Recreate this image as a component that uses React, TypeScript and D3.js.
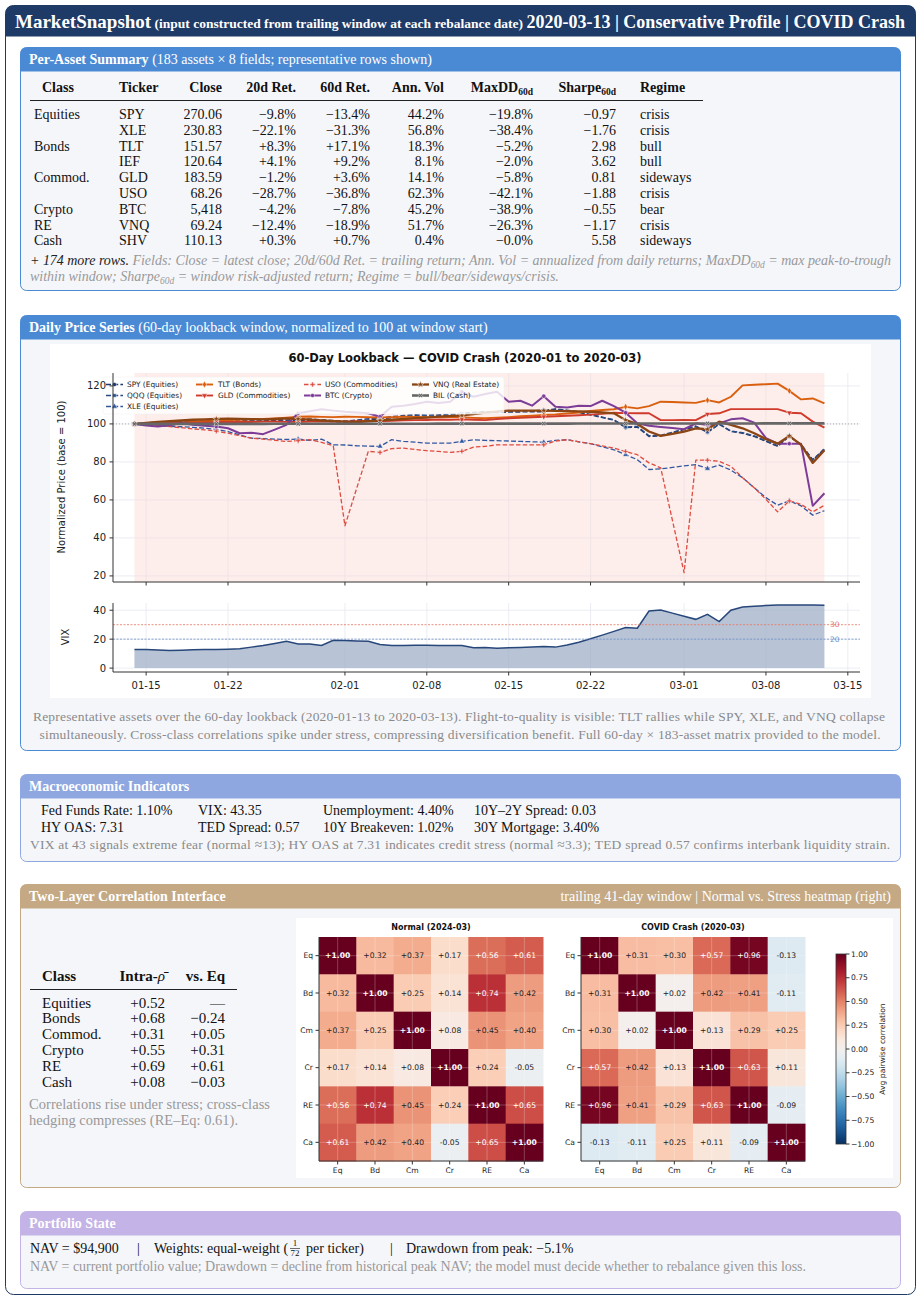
import React from 'react';
import * as d3 from 'd3';

const SERIF = '"Liberation Serif", "Times New Roman", serif';
const SANS = '"DejaVu Sans", "Noto Sans", sans-serif';

// ---------- Per-asset table ----------
const tableClasses = ['Equities', '', 'Bonds', '', 'Commod.', '', 'Crypto', 'RE', 'Cash'];
const tickers = ['SPY', 'XLE', 'TLT', 'IEF', 'GLD', 'USO', 'BTC', 'VNQ', 'SHV'];
const closes = [270.06, 230.83, 151.57, 120.64, 183.59, 68.26, 5418, 69.24, 110.13];
const ret20 = [-9.8, -22.1, 8.3, 4.1, -1.2, -28.7, -4.2, -12.4, 0.3];
const ret60 = [-13.4, -31.3, 17.1, 9.2, 3.6, -36.8, -7.8, -18.9, 0.7];
const annVol = [44.2, 56.8, 18.3, 8.1, 14.1, 62.3, 45.2, 51.7, 0.4];
const maxDD = [-19.8, -38.4, -5.2, -2.0, -5.8, -42.1, -38.9, -26.3, -0.0];
const sharpe = [-0.97, -1.76, 2.98, 3.62, 0.81, -1.88, -0.55, -1.17, 5.58];
const regimes = ['crisis', 'crisis', 'bull', 'bull', 'sideways', 'crisis', 'bear', 'crisis', 'sideways'];

// ---------- Price series (daily, 2020-01-14 .. 2020-03-13) ----------
const startDate = '2020-01-14';
const endDate = '2020-03-13';
const seriesNames = ['SPY (Equities)', 'QQQ (Equities)', 'XLE (Equities)', 'TLT (Bonds)', 'GLD (Commodities)', 'USO (Commodities)', 'BTC (Crypto)', 'VNQ (Real Estate)', 'BIL (Cash)'];
const spy = [100, 100.3, 100.6, 100.9, 101.1, 100.8, 101.2, 101.5, 101.3, 101.0, 101.4, 101.6, 101.9, 101.5, 101.8, 102.0, 101.7, 101.2, 100.9, 101.4, 102.1, 102.6, 103.3, 103.9, 104.3, 104.0, 104.2, 104.6, 105.0, 105.6, 105.9, 106.0, 106.2, 106.3, 106.4, 106.4, 107.7, 106.8, 106.0, 104.7, 103.4, 102.0, 98.0, 98.3, 93.4, 93.7, 95.3, 97.0, 98.6, 95.5, 99.8, 96.0, 95.1, 93.4, 90.8, 88.2, 93.4, 89.0, 80.9, 87.0];
const qqq = [100, 100.5, 100.9, 101.2, 101.5, 101.2, 101.7, 102.0, 101.8, 101.6, 101.9, 102.2, 102.5, 102.1, 102.4, 102.6, 102.2, 101.8, 101.5, 102.0, 102.7, 103.1, 103.8, 104.4, 104.9, 104.6, 104.8, 105.2, 105.6, 106.1, 106.4, 106.5, 106.8, 106.9, 107.0, 107.1, 107.9, 107.2, 106.3, 105.0, 103.6, 102.2, 98.4, 98.7, 93.8, 94.0, 95.6, 97.3, 98.9, 95.9, 100.0, 96.3, 95.4, 93.7, 91.1, 88.5, 93.6, 89.3, 81.2, 86.6];
const xle = [100, 99.6, 99.2, 98.8, 98.5, 98.2, 97.8, 97.1, 96.0, 94.2, 92.5, 92.3, 92.0, 91.8, 92.0, 91.3, 92.0, 89.0, 88.9, 88.5, 88.3, 88.2, 91.7, 90.8, 90.4, 89.9, 89.9, 89.9, 90.8, 91.7, 91.3, 91.2, 91.0, 90.8, 90.6, 90.4, 91.3, 91.7, 90.6, 89.6, 88.0, 86.4, 83.8, 81.2, 76.0, 76.3, 77.1, 77.9, 78.6, 76.5, 78.3, 75.7, 71.7, 66.4, 61.2, 57.2, 59.5, 56.9, 52.0, 54.3];
const tlt = [100, 100.4, 100.9, 101.0, 100.7, 101.2, 101.5, 101.4, 102.0, 102.2, 102.4, 102.6, 102.9, 103.3, 103.8, 103.9, 103.7, 103.6, 103.8, 103.7, 103.5, 103.4, 103.6, 103.8, 103.7, 103.5, 103.6, 103.8, 103.5, 103.2, 103.0, 103.3, 103.6, 104.0, 104.3, 104.7, 105.0, 105.5, 106.0, 106.8, 107.3, 107.7, 109.0, 108.2, 109.4, 111.7, 111.5, 111.3, 111.1, 112.5, 111.3, 114.3, 120.3, 120.6, 120.9, 121.2, 117.4, 112.9, 113.4, 110.8];
const gld = [100, 100.2, 100.4, 100.5, 100.7, 100.6, 100.8, 100.9, 101.0, 101.1, 101.0, 101.2, 101.3, 101.1, 101.0, 101.2, 101.4, 101.3, 101.2, 101.4, 101.6, 101.5, 101.7, 101.9, 102.0, 102.1, 102.3, 102.2, 102.4, 102.2, 102.0, 102.6, 103.0, 103.2, 103.5, 103.8, 104.0, 104.3, 104.6, 104.9, 105.3, 105.9, 105.7, 105.6, 105.6, 102.0, 102.0, 102.1, 102.0, 105.2, 105.6, 107.8, 107.8, 107.8, 107.8, 107.8, 105.9, 105.6, 101.2, 98.1];
const uso = [100, 99.5, 99.0, 98.6, 98.0, 97.4, 96.9, 96.2, 95.1, 93.8, 92.5, 92.0, 91.4, 90.8, 91.2, 91.7, 90.3, 88.5, 46.4, 66.0, 85.6, 85.0, 87.0, 87.3, 86.6, 85.9, 85.5, 85.0, 85.6, 87.8, 88.2, 89.0, 89.0, 89.0, 89.0, 89.0, 91.0, 91.7, 90.6, 89.6, 88.4, 87.3, 85.5, 83.8, 79.5, 76.9, 49.3, 21.7, 80.9, 80.9, 80.3, 77.7, 71.7, 66.4, 60.3, 53.7, 59.5, 57.7, 53.7, 57.2];
const btc = [100, 99.2, 98.6, 99.3, 100.3, 99.6, 99.0, 98.6, 97.7, 95.1, 95.4, 94.6, 97.0, 99.5, 105.6, 106.7, 107.7, 107.0, 106.4, 106.0, 105.6, 103.8, 109.0, 109.6, 110.5, 111.7, 111.0, 111.7, 116.9, 114.3, 115.7, 116.9, 111.7, 112.2, 109.6, 114.6, 109.0, 108.7, 109.6, 109.4, 112.2, 109.4, 105.9, 100.3, 99.0, 98.4, 97.9, 97.2, 100.3, 99.4, 100.3, 102.4, 103.0, 100.7, 92.5, 89.6, 89.6, 89.6, 56.9, 63.5];
const vnq = [100, 100.6, 101.1, 101.5, 101.8, 102.2, 102.4, 102.6, 102.8, 102.7, 102.5, 102.4, 102.6, 102.9, 102.6, 102.3, 101.8, 101.5, 101.2, 101.0, 101.4, 101.8, 102.2, 102.6, 103.0, 103.3, 103.8, 104.1, 104.5, 105.2, 105.9, 106.5, 107.0, 107.0, 107.0, 107.0, 106.9, 106.7, 106.6, 106.4, 106.0, 105.6, 102.0, 100.0, 96.0, 93.7, 94.8, 96.0, 97.7, 97.2, 101.2, 99.5, 97.7, 95.1, 92.0, 89.6, 93.7, 89.0, 79.5, 86.1];
const bil = [100, 100.0, 100.01, 100.01, 100.02, 100.02, 100.03, 100.03, 100.04, 100.04, 100.05, 100.05, 100.06, 100.06, 100.07, 100.07, 100.08, 100.08, 100.09, 100.09, 100.1, 100.1, 100.11, 100.11, 100.12, 100.12, 100.13, 100.13, 100.14, 100.14, 100.15, 100.15, 100.16, 100.16, 100.17, 100.17, 100.18, 100.18, 100.19, 100.19, 100.2, 100.2, 100.21, 100.21, 100.22, 100.22, 100.23, 100.23, 100.24, 100.24, 100.25, 100.25, 100.26, 100.26, 100.27, 100.27, 100.28, 100.28, 100.29, 100.29];
const vix = [12.9, 12.8, 12.5, 12.2, 12.4, 12.6, 12.8, 12.9, 13.1, 13.3, 14.5, 15.6, 17.0, 18.5, 16.7, 16.7, 15.6, 19.2, 19.0, 18.8, 18.5, 16.3, 15.6, 15.7, 15.8, 15.8, 15.7, 15.6, 15.6, 14.0, 14.2, 13.8, 14.0, 14.3, 14.6, 14.9, 14.5, 16.0, 17.9, 20.3, 22.8, 25.4, 28.0, 27.6, 39.5, 40.2, 38.0, 35.9, 33.7, 37.1, 32.1, 40.0, 42.3, 42.8, 43.2, 43.6, 43.6, 43.6, 43.6, 43.4];
const priceYTicks = [20, 40, 60, 80, 100, 120];
const vixYTicks = [0, 20, 40];
const xTickDates = ['2020-01-15', '2020-01-22', '2020-02-01', '2020-02-08', '2020-02-15', '2020-02-22', '2020-03-01', '2020-03-08', '2020-03-15'];

// ---------- Macro ----------
const macroRow1 = ['Fed Funds Rate: 1.10%', 'VIX: 43.35', 'Unemployment: 4.40%', '10Y\u20132Y Spread: 0.03'];
const macroRow2 = ['HY OAS: 7.31', 'TED Spread: 0.57', '10Y Breakeven: 1.02%', '30Y Mortgage: 3.40%'];

// ---------- Correlation ----------
const corrClasses = ['Equities', 'Bonds', 'Commod.', 'Crypto', 'RE', 'Cash'];
const intraRho = [0.52, 0.68, 0.31, 0.55, 0.69, 0.08];
const vsEq = [null, -0.24, 0.05, 0.31, 0.61, -0.03];
const heatLabels = ['Eq', 'Bd', 'Cm', 'Cr', 'RE', 'Ca'];
const normalCorr = [
  [1.0, 0.32, 0.37, 0.17, 0.56, 0.61],
  [0.32, 1.0, 0.25, 0.14, 0.74, 0.42],
  [0.37, 0.25, 1.0, 0.08, 0.45, 0.40],
  [0.17, 0.14, 0.08, 1.0, 0.24, -0.05],
  [0.56, 0.74, 0.45, 0.24, 1.0, 0.65],
  [0.61, 0.42, 0.40, -0.05, 0.65, 1.0],
];
const covidCorr = [
  [1.0, 0.31, 0.30, 0.57, 0.96, -0.13],
  [0.31, 1.0, 0.02, 0.42, 0.41, -0.11],
  [0.30, 0.02, 1.0, 0.13, 0.29, 0.25],
  [0.57, 0.42, 0.13, 1.0, 0.63, 0.11],
  [0.96, 0.41, 0.29, 0.63, 1.0, -0.09],
  [-0.13, -0.11, 0.25, 0.11, -0.09, 1.0],
];
const cbarTicks = [1, 0.75, 0.5, 0.25, 0, -0.25, -0.5, -0.75, -1];

// ---------- helpers ----------
const MINUS = '\u2212';
const fmtPct = (v: number, plus = true) => {
  const neg = v < 0 || Object.is(v, -0);
  return (neg ? MINUS : plus ? '+' : '') + Math.abs(v).toFixed(1) + '%';
};
const fmtSharpe = (v: number) => (v < 0 ? MINUS : '') + Math.abs(v).toFixed(2);
const fmtClose = (v: number) => (v >= 1000 ? d3.format(',')(v) : v.toFixed(2));
const fmtRho = (v: number) => (v < 0 ? MINUS : '+') + Math.abs(v).toFixed(2);

const topRounded = (x: number, y: number, w: number, h: number, r: number) =>
  `M${x},${y + h}V${y + r}Q${x},${y} ${x + r},${y}H${x + w - r}Q${x + w},${y} ${x + w},${y + r}V${y + h}Z`;

function Section({ y, h, color, children }: any) {
  return (
    <g>
      <rect x={20.5} y={y + 0.5} width={880} height={h} rx={6} fill="#f5f6fa" stroke={color} strokeWidth={1} />
      <path d={topRounded(20.5, y + 0.5, 880, 24, 6)} fill={color} />
      {children}
    </g>
  );
}

const styles = [
  { color: '#1f3a6e', dash: '5,2.2', width: 1.4, symbol: d3.symbolCircle, size: 14 },
  { color: '#274b85', dash: '5,2.2', width: 1.4, symbol: d3.symbolSquare, size: 12 },
  { color: '#3057a0', dash: '5,2.2', width: 1.3, symbol: d3.symbolTriangle, size: 14 },
  { color: '#d95f0e', dash: null, width: 1.9, symbol: d3.symbolDiamond, size: 14 },
  { color: '#cf3a2b', dash: null, width: 1.9, symbol: d3.symbolTriangle, size: 14, rot: 180 },
  { color: '#de4b3f', dash: '4.5,2.2', width: 1.3, symbol: d3.symbolCross, size: 14 },
  { color: '#7d3c98', dash: null, width: 2.0, symbol: d3.symbolCircle, size: 14 },
  { color: '#8b4513', dash: null, width: 2.3, symbol: d3.symbolStar, size: 16 },
  { color: '#666666', dash: null, width: 2.6, symbol: d3.symbolCross, size: 14, rot: 45 },
];

function PriceChart() {
  const parse = d3.utcParse('%Y-%m-%d');
  const d0 = parse(startDate)!;
  const d1 = parse(endDate)!;
  const dates = d3.utcDays(d0, d3.utcDay.offset(d1, 1));
  const allSeries = [spy, qqq, xle, tlt, gld, uso, btc, vnq, bil];
  const x = d3
    .scaleUtc()
    .domain([d3.utcHour.offset(d0, -Math.round(1.82 * 24)), d3.utcHour.offset(d1, Math.round(3.03 * 24))])
    .range([113, 860]);
  const y = d3.scaleLinear().domain([16.8, 126.8]).range([582, 373]);
  const yv = d3.scaleLinear().domain([-2.7, 45]).range([672, 603]);
  const line = d3
    .line<number>()
    .x((_, i) => x(dates[i]))
    .y((v) => y(v));
  const vixLine = d3
    .line<number>()
    .x((_, i) => x(dates[i]))
    .y((v) => yv(v));
  const vixArea = d3
    .area<number>()
    .x((_, i) => x(dates[i]))
    .y0(yv(0))
    .y1((v) => yv(v));
  const ticks = xTickDates.map((s) => parse(s)!);
  const fmt = d3.utcFormat('%m-%d');
  const gridC = '#e6e8f0';
  const legendCols = [
    { lx: 106, tx: 127, items: [0, 1, 2] },
    { lx: 196, tx: 218, items: [3, 4] },
    { lx: 304, tx: 325, items: [5, 6] },
    { lx: 412, tx: 433, items: [7, 8] },
  ];
  const legendRows = [384.5, 395.5, 406.5];
  const markIdx = d3.range(0, 60, 7);

  return (
    <g>
      <rect x={50} y={344} width={821} height={354} fill="#ffffff" />
      <text x={465} y={362} textAnchor="middle" fontFamily={SANS} fontWeight="bold" fontSize={11.5} fill="#111">
        60-Day Lookback — COVID Crash (2020-01 to 2020-03)
      </text>
      {ticks.map((t, i) => (
        <line key={'gx' + i} x1={x(t)} x2={x(t)} y1={373} y2={582} stroke={gridC} strokeWidth={0.8} />
      ))}
      {priceYTicks.map((v) => (
        <line key={'gy' + v} x1={113} x2={860} y1={y(v)} y2={y(v)} stroke={gridC} strokeWidth={0.8} />
      ))}
      <rect x={x(d0)} y={373} width={x(d1) - x(d0)} height={209} fill="#fbd9d4" opacity={0.45} />
      <line x1={113} x2={860} y1={y(100)} y2={y(100)} stroke="#9a9a9a" strokeWidth={0.8} strokeDasharray="1,2" />
      {allSeries.map((s, k) => (
        <g key={'s' + k}>
          <path
            d={line(s)!}
            fill="none"
            stroke={styles[k].color}
            strokeWidth={styles[k].width}
            strokeDasharray={styles[k].dash || undefined}
            strokeLinejoin="round"
          />
          {markIdx.map((i) => (
            <path
              key={i}
              d={d3.symbol(styles[k].symbol, styles[k].size)()!}
              transform={`translate(${x(dates[i])},${y(s[i])}) rotate(${styles[k].rot || 0})`}
              fill={styles[k].color}
              stroke="#fff"
              strokeWidth={0.5}
            />
          ))}
        </g>
      ))}
      <rect x={103} y={377} width={401} height={37} rx={2} fill="#ffffff" fillOpacity={0.82} stroke="#ececec" strokeWidth={0.5} />
      {legendCols.map((c) =>
        c.items.map((k, ri) => (
          <g key={'lg' + k}>
            <line
              x1={c.lx}
              x2={c.lx + 17}
              y1={legendRows[ri]}
              y2={legendRows[ri]}
              stroke={styles[k].color}
              strokeWidth={styles[k].width}
              strokeDasharray={styles[k].dash || undefined}
            />
            <path
              d={d3.symbol(styles[k].symbol, styles[k].size)()!}
              transform={`translate(${c.lx + 8.5},${legendRows[ri]}) rotate(${styles[k].rot || 0})`}
              fill={styles[k].color}
              stroke="#fff"
              strokeWidth={0.5}
            />
            <text x={c.tx} y={legendRows[ri] + 2.6} fontFamily={SANS} fontSize={7.4} fill="#222">
              {seriesNames[k]}
            </text>
          </g>
        ))
      )}
      <line x1={113} x2={113} y1={373} y2={582} stroke="#333" strokeWidth={1} />
      <line x1={113} x2={860} y1={582} y2={582} stroke="#333" strokeWidth={1} />
      {priceYTicks.map((v) => (
        <g key={'yt' + v}>
          <line x1={109.5} x2={113} y1={y(v)} y2={y(v)} stroke="#333" />
          <text x={106} y={y(v) + 3.5} textAnchor="end" fontFamily={SANS} fontSize={10} fill="#222">
            {v}
          </text>
        </g>
      ))}
      {ticks.map((t, i) => (
        <line key={'xt' + i} x1={x(t)} x2={x(t)} y1={582} y2={585.5} stroke="#333" />
      ))}
      <text transform={`translate(65,477) rotate(-90)`} textAnchor="middle" fontFamily={SANS} fontSize={10} fill="#222">
        Normalized Price (base = 100)
      </text>

      {ticks.map((t, i) => (
        <line key={'vgx' + i} x1={x(t)} x2={x(t)} y1={603} y2={672} stroke={gridC} strokeWidth={0.8} />
      ))}
      {vixYTicks.map((v) => (
        <line key={'vgy' + v} x1={113} x2={860} y1={yv(v)} y2={yv(v)} stroke={gridC} strokeWidth={0.8} />
      ))}
      <path d={vixArea(vix)!} fill="#9aabc4" fillOpacity={0.7} />
      <path d={vixLine(vix)!} fill="none" stroke="#27467a" strokeWidth={1.5} />
      <line x1={113} x2={860} y1={yv(30)} y2={yv(30)} stroke="#e8735f" strokeWidth={0.8} strokeDasharray="2,1.5" />
      <line x1={113} x2={860} y1={yv(20)} y2={yv(20)} stroke="#6f8fc8" strokeWidth={0.8} strokeDasharray="2,1.5" />
      <text x={830} y={yv(30) + 2.5} fontFamily={SANS} fontSize={7.5} fill="#e8735f">30</text>
      <text x={830} y={yv(20) + 2.5} fontFamily={SANS} fontSize={7.5} fill="#6f8fc8">20</text>
      <line x1={113} x2={113} y1={603} y2={672} stroke="#333" strokeWidth={1} />
      <line x1={113} x2={860} y1={672} y2={672} stroke="#333" strokeWidth={1} />
      {vixYTicks.map((v) => (
        <g key={'vyt' + v}>
          <line x1={109.5} x2={113} y1={yv(v)} y2={yv(v)} stroke="#333" />
          <text x={106} y={yv(v) + 3.5} textAnchor="end" fontFamily={SANS} fontSize={10} fill="#222">
            {v}
          </text>
        </g>
      ))}
      {ticks.map((t, i) => (
        <g key={'vxt' + i}>
          <line x1={x(t)} x2={x(t)} y1={672} y2={675.5} stroke="#333" />
          <text x={x(t)} y={689} textAnchor="middle" fontFamily={SANS} fontSize={10} fill="#222">
            {fmt(t)}
          </text>
        </g>
      ))}
      <text transform={`translate(69,637) rotate(-90)`} textAnchor="middle" fontFamily={SANS} fontSize={10} fill="#222">
        VIX
      </text>
    </g>
  );
}

function Heatmap({ x0, y0, title, data }: any) {
  const n = heatLabels.length;
  const band = d3.scaleBand<number>().domain(d3.range(n)).range([0, 224]);
  const color = (v: number) => d3.interpolateRdBu((1 - v) / 2);
  const cw = band.bandwidth();
  return (
    <g>
      <text x={x0 + 112} y={930} textAnchor="middle" fontFamily={SANS} fontWeight="bold" fontSize={8} fill="#111">
        {title}
      </text>
      {data.map((row: number[], r: number) =>
        row.map((v: number, c: number) => (
          <rect key={r + '-' + c} x={x0 + band(c)!} y={y0 + band(r)!} width={cw + 0.5} height={cw + 0.5} fill={color(v)} />
        ))
      )}
      {d3.range(n).map((i) => (
        <g key={'g' + i}>
          <line x1={x0 + band(i)! + cw / 2} x2={x0 + band(i)! + cw / 2} y1={y0} y2={y0 + 224} stroke="#ffffff" strokeOpacity={0.3} strokeWidth={0.8} />
          <line y1={y0 + band(i)! + cw / 2} y2={y0 + band(i)! + cw / 2} x1={x0} x2={x0 + 224} stroke="#ffffff" strokeOpacity={0.3} strokeWidth={0.8} />
        </g>
      ))}
      {data.map((row: number[], r: number) =>
        row.map((v: number, c: number) => (
          <text
            key={'t' + r + '-' + c}
            x={x0 + band(c)! + cw / 2}
            y={y0 + band(r)! + cw / 2 + 2.7}
            textAnchor="middle"
            fontFamily={SANS}
            fontSize={7.6}
            fontWeight={r === c ? 'bold' : 'normal'}
            fill={Math.abs(v) > 0.5 ? '#ffffff' : '#222222'}
          >
            {(v >= 0 ? '+' : '-') + Math.abs(v).toFixed(2)}
          </text>
        ))
      )}
      <line x1={x0} x2={x0} y1={y0} y2={y0 + 224} stroke="#333" strokeWidth={1} />
      <line x1={x0} x2={x0 + 224} y1={y0 + 224} y2={y0 + 224} stroke="#333" strokeWidth={1} />
      {heatLabels.map((l, i) => (
        <g key={'l' + i}>
          <line x1={x0 - 3.5} x2={x0} y1={y0 + band(i)! + cw / 2} y2={y0 + band(i)! + cw / 2} stroke="#333" />
          <text x={x0 - 6} y={y0 + band(i)! + cw / 2 + 2.7} textAnchor="end" fontFamily={SANS} fontSize={7.6} fill="#222">
            {l}
          </text>
          <line x1={x0 + band(i)! + cw / 2} x2={x0 + band(i)! + cw / 2} y1={y0 + 224} y2={y0 + 227.5} stroke="#333" />
          <text x={x0 + band(i)! + cw / 2} y={y0 + 236} textAnchor="middle" fontFamily={SANS} fontSize={7.6} fill="#222">
            {l}
          </text>
        </g>
      ))}
    </g>
  );
}

function Colorbar() {
  const cy = d3.scaleLinear().domain([-1, 1]).range([1144, 954]);
  const stops = d3.range(0, 1.0001, 0.05);
  return (
    <g>
      <defs>
        <linearGradient id="cbar" x1="0" y1="1" x2="0" y2="0">
          {stops.map((t) => (
            <stop key={t} offset={t} stopColor={d3.interpolateRdBu(1 - t)} />
          ))}
        </linearGradient>
      </defs>
      <rect x={836} y={954} width={10} height={190} fill="url(#cbar)" stroke="#333" strokeWidth={0.8} />
      {cbarTicks.map((v) => (
        <g key={v}>
          <line x1={846} x2={849.5} y1={cy(v)} y2={cy(v)} stroke="#333" />
          <text x={851} y={cy(v) + 2.7} fontFamily={SANS} fontSize={7.6} fill="#222">
            {(v < 0 ? MINUS : '') + Math.abs(v).toFixed(2)}
          </text>
        </g>
      ))}
      <text transform="translate(885,1049) rotate(-90)" textAnchor="middle" fontFamily={SANS} fontSize={7.6} fill="#222">
        Avg pairwise correlation
      </text>
    </g>
  );
}

export default function App() {
  const rowY = (i: number) => 119 + i * 15.8;
  const corrRowY = (i: number) => 1007.5 + i * 15.9;
  return (
    <svg width={921} height={1299} style={{ position: 'absolute', left: 0, top: 0, display: 'block' }}>
      <rect width={921} height={1299} fill="#ffffff" />
      <rect x={5.5} y={5.5} width={910} height={1289} rx={8} fill="#ffffff" stroke="#1e3a66" strokeWidth={1} />
      <path d={topRounded(5.5, 5.5, 910, 31, 8)} fill="#1e3a66" />
      <text x={15} y={28} fontFamily={SERIF} fill="#ffffff" fontWeight="bold">
        <tspan fontSize={19}>MarketSnapshot</tspan>
        <tspan fontSize={13.5}> (input constructed from trailing window at each rebalance date) </tspan>
        <tspan fontSize={18}>2020-03-13 | Conservative Profile | COVID Crash</tspan>
      </text>

      {/* Per-Asset Summary */}
      <Section y={47} h={243} color="#4a8ad4">
        <text x={29} y={64} fontFamily={SERIF} fontSize={14} fill="#fff">
          <tspan fontWeight="bold">Per-Asset Summary</tspan>
          <tspan> (183 assets × 8 fields; representative rows shown)</tspan>
        </text>
        <g fontFamily={SERIF} fontSize={14} fill="#111">
          <g fontWeight="bold">
            <text x={42} y={92}>Class</text>
            <text x={119} y={92}>Ticker</text>
            <text x={222} y={92} textAnchor="end">Close</text>
            <text x={296} y={92} textAnchor="end">20d Ret.</text>
            <text x={370} y={92} textAnchor="end">60d Ret.</text>
            <text x={444} y={92} textAnchor="end">Ann. Vol</text>
            <text x={533} y={92} textAnchor="end">
              MaxDD<tspan fontSize={9.5} dy={2.5}>60d</tspan>
            </text>
            <text x={616} y={92} textAnchor="end">
              Sharpe<tspan fontSize={9.5} dy={2.5}>60d</tspan>
            </text>
            <text x={640} y={92}>Regime</text>
          </g>
          <line x1={30} x2={703} y1={100.5} y2={100.5} stroke="#222" strokeWidth={1} />
          {tickers.map((t, i) => (
            <g key={t}>
              <text x={34} y={rowY(i)}>{tableClasses[i]}</text>
              <text x={119} y={rowY(i)}>{t}</text>
              <text x={222} y={rowY(i)} textAnchor="end">{fmtClose(closes[i])}</text>
              <text x={296} y={rowY(i)} textAnchor="end">{fmtPct(ret20[i])}</text>
              <text x={370} y={rowY(i)} textAnchor="end">{fmtPct(ret60[i])}</text>
              <text x={444} y={rowY(i)} textAnchor="end">{fmtPct(annVol[i], false)}</text>
              <text x={533} y={rowY(i)} textAnchor="end">{fmtPct(maxDD[i])}</text>
              <text x={616} y={rowY(i)} textAnchor="end">{fmtSharpe(sharpe[i])}</text>
              <text x={640} y={rowY(i)}>{regimes[i]}</text>
            </g>
          ))}
        </g>
        <text x={30} y={265} fontFamily={SERIF} fontSize={14} fontStyle="italic" fill="#999" textLength={861} lengthAdjust="spacing">
          <tspan fill="#222">+ 174 more rows.</tspan>
          <tspan> Fields: Close = latest close; 20d/60d Ret. = trailing return; Ann. Vol = annualized from daily returns; MaxDD</tspan>
          <tspan fontSize={9.5} dy={2.5}>60d</tspan>
          <tspan dy={-2.5}> = max peak-to-trough</tspan>
        </text>
        <text x={30} y={281} fontFamily={SERIF} fontSize={14} fontStyle="italic" fill="#999">
          <tspan>within window; Sharpe</tspan>
          <tspan fontSize={9.5} dy={2.5}>60d</tspan>
          <tspan dy={-2.5}> = window risk-adjusted return; Regime = bull/bear/sideways/crisis.</tspan>
        </text>
      </Section>

      {/* Daily Price Series */}
      <Section y={315} h={435} color="#4a8ad4">
        <text x={29} y={332} fontFamily={SERIF} fontSize={14} fill="#fff">
          <tspan fontWeight="bold">Daily Price Series</tspan>
          <tspan> (60-day lookback window, normalized to 100 at window start)</tspan>
        </text>
        <PriceChart />
        <text x={459} y={721} textAnchor="middle" fontFamily={SERIF} fontSize={13.5} fill="#8a8a8a" textLength={852} lengthAdjust="spacing">
          Representative assets over the 60-day lookback (2020-01-13 to 2020-03-13). Flight-to-quality is visible: TLT rallies while SPY, XLE, and VNQ collapse
        </text>
        <text x={460} y={739} textAnchor="middle" fontFamily={SERIF} fontSize={13.5} fill="#8a8a8a" textLength={841} lengthAdjust="spacing">
          simultaneously. Cross-class correlations spike under stress, compressing diversification benefit. Full 60-day × 183-asset matrix provided to the model.
        </text>
      </Section>

      {/* Macro */}
      <Section y={774} h={87} color="#8fa7e0">
        <text x={29} y={791} fontFamily={SERIF} fontSize={14} fontWeight="bold" fill="#fff">
          Macroeconomic Indicators
        </text>
        <g fontFamily={SERIF} fontSize={14} fill="#111">
          {macroRow1.map((t, i) => (
            <text key={'m1' + i} x={[41, 198, 323, 474][i]} y={815}>{t}</text>
          ))}
          {macroRow2.map((t, i) => (
            <text key={'m2' + i} x={[41, 198, 323, 474][i]} y={832}>{t}</text>
          ))}
        </g>
        <text x={30} y={849} fontFamily={SERIF} fontSize={13.5} fill="#8a8a8a" textLength={860} lengthAdjust="spacing">
          VIX at 43 signals extreme fear (normal ≈13); HY OAS at 7.31 indicates credit stress (normal ≈3.3); TED spread 0.57 confirms interbank liquidity strain.
        </text>
      </Section>

      {/* Correlation */}
      <Section y={884} h={303} color="#c4a984">
        <text x={29} y={901} fontFamily={SERIF} fontSize={14} fontWeight="bold" fill="#fff">
          Two-Layer Correlation Interface
        </text>
        <text x={891} y={901} textAnchor="end" fontFamily={SERIF} fontSize={14} fill="#fff">
          trailing 41-day window | Normal vs. Stress heatmap (right)
        </text>
        <g fontFamily={SERIF} fontSize={15} fill="#111">
          <g fontWeight="bold">
            <text x={42} y={981}>Class</text>
            <text x={165} y={981} textAnchor="end">Intra-<tspan fontStyle="italic" fontWeight="normal">ρ̄</tspan></text>
            <text x={225} y={981} textAnchor="end">vs. Eq</text>
          </g>
          <line x1={30} x2={237} y1={989.5} y2={989.5} stroke="#222" strokeWidth={1} />
          {corrClasses.map((c, i) => (
            <g key={c}>
              <text x={42} y={corrRowY(i)}>{c}</text>
              <text x={165} y={corrRowY(i)} textAnchor="end">{fmtRho(intraRho[i])}</text>
              <text x={225} y={corrRowY(i)} textAnchor="end">{vsEq[i] === null ? '—' : fmtRho(vsEq[i] as number)}</text>
            </g>
          ))}
        </g>
        <text x={29} y={1109} fontFamily={SERIF} fontSize={14.5} fill="#999" textLength={241} lengthAdjust="spacing">
          Correlations rise under stress; cross-class
        </text>
        <text x={29} y={1125} fontFamily={SERIF} fontSize={14.5} fill="#999">
          hedging compresses (RE–Eq: 0.61).
        </text>
        <rect x={296} y={918} width={597} height={260} fill="#ffffff" />
        <Heatmap x0={319} y0={937} title="Normal (2024-03)" data={normalCorr} />
        <Heatmap x0={581} y0={937} title="COVID Crash (2020-03)" data={covidCorr} />
        <Colorbar />
      </Section>

      {/* Portfolio */}
      <Section y={1211} h={77} color="#c4b3e6">
        <text x={29} y={1228} fontFamily={SERIF} fontSize={14} fontWeight="bold" fill="#fff">
          Portfolio State
        </text>
        <g fontFamily={SERIF} fontSize={14} fill="#111">
          <text x={30} y={1253}>NAV = $94,900</text>
          <text x={137} y={1253}>|</text>
          <text x={154} y={1253}>Weights: equal-weight (</text>
          <text x={295} y={1246} textAnchor="middle" fontSize={9}>1</text>
          <line x1={290} x2={300} y1={1248.5} y2={1248.5} stroke="#111" strokeWidth={0.6} />
          <text x={295} y={1256} textAnchor="middle" fontSize={9}>72</text>
          <text x={306} y={1253}>per ticker)</text>
          <text x={390} y={1253}>|</text>
          <text x={406} y={1253}>Drawdown from peak: {MINUS}5.1%</text>
        </g>
        <text x={30} y={1271} fontFamily={SERIF} fontSize={14} fill="#999" textLength={776} lengthAdjust="spacing">
          NAV = current portfolio value; Drawdown = decline from historical peak NAV; the model must decide whether to rebalance given this loss.
        </text>
      </Section>
    </svg>
  );
}
